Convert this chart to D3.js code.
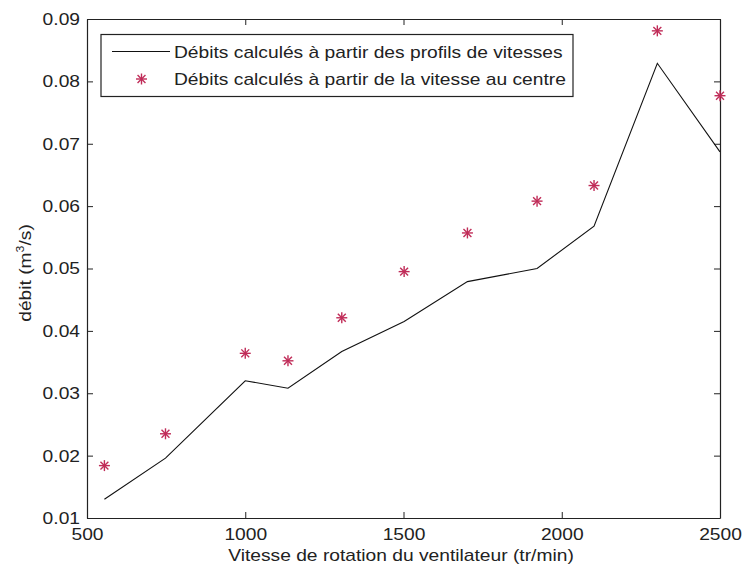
<!DOCTYPE html>
<html><head><meta charset="utf-8">
<script src="https://cdn.jsdelivr.net/npm/d3@7"></script>
<style>
html,body{margin:0;padding:0;background:#fff;}
text{font-family:"Liberation Sans",Arial,sans-serif;fill:#222;}
</style></head>
<body><svg id="c" width="742" height="571"></svg>
<script>
const rpm = [555, 748, 1000, 1135, 1305, 1502, 1702, 1922, 2102, 2302, 2500];
const debitProfils = [0.0130, 0.0196, 0.0320, 0.0308, 0.0367, 0.0415, 0.0479, 0.0500, 0.0568, 0.0829, 0.0687];
const debitCentre = [0.0184, 0.0235, 0.0364, 0.0352, 0.0421, 0.0495, 0.0557, 0.0608, 0.0633, 0.0881, 0.0777];
const xTicks = [500, 1000, 1500, 2000, 2500];
const yTicks = [0.01, 0.02, 0.03, 0.04, 0.05, 0.06, 0.07, 0.08, 0.09];
const legendLabels = ["Débits calculés à partir des profils de vitesses", "Débits calculés à partir de la vitesse au centre"];

const L = 87, R = 720, T = 19, B = 518;
const FS = 17, STRETCH = 1.13;
const svg = d3.select("#c");
const x = d3.scaleLinear().domain([500, 2500]).range([L, R]);
const y = d3.scaleLinear().domain([0.01, 0.09]).range([B, T]);
const starColor = "#c02c58";
const tickLen = 6;

function stretch(sel) {
  sel.each(function () {
    const w = this.getComputedTextLength();
    d3.select(this).attr("textLength", w * STRETCH).attr("lengthAdjust", "spacingAndGlyphs");
  });
}

// axes
const fmtY = d3.format(".2f");
const gB = svg.append("g").attr("transform", `translate(0,${B})`)
  .call(d3.axisBottom(x).tickValues(xTicks).tickSizeInner(-tickLen).tickSizeOuter(0).tickPadding(10).tickFormat(d3.format("d")));
const gT = svg.append("g").attr("transform", `translate(0,${T})`)
  .call(d3.axisTop(x).tickValues(xTicks).tickSizeInner(-tickLen).tickSizeOuter(0).tickFormat(""));
const gL = svg.append("g").attr("transform", `translate(${L},0)`)
  .call(d3.axisLeft(y).tickValues(yTicks).tickSizeInner(-tickLen).tickSizeOuter(0).tickPadding(7).tickFormat(fmtY));
const gR = svg.append("g").attr("transform", `translate(${R},0)`)
  .call(d3.axisRight(y).tickValues(yTicks).tickSizeInner(-tickLen).tickSizeOuter(0).tickFormat(""));
[gB, gT, gL, gR].forEach(g => {
  g.selectAll(".domain").attr("stroke", "#222").attr("stroke-width", 1.2);
  g.selectAll(".tick line").attr("stroke", "#222");
  g.selectAll("text").attr("font-size", FS).attr("fill", "#222").attr("font-family", "\"Liberation Sans\",Arial,sans-serif")
    .call(stretch);
});

// line
const line = d3.line().x((d, i) => x(rpm[i])).y(d => y(d));
svg.append("path").datum(debitProfils).attr("d", line)
  .attr("fill", "none").attr("stroke", "#111").attr("stroke-width", 1.1);

// star marker
function star(g, cx, cy, r) {
  const s = g.append("g").attr("transform", `translate(${cx},${cy})`)
    .attr("stroke", starColor).attr("stroke-width", 1.4);
  s.append("line").attr("x1", -r).attr("x2", r).attr("y1", 0).attr("y2", 0);
  s.append("line").attr("x1", 0).attr("x2", 0).attr("y1", -r).attr("y2", r);
  const d = r * 0.72;
  s.append("line").attr("x1", -d).attr("x2", d).attr("y1", -d).attr("y2", d);
  s.append("line").attr("x1", -d).attr("x2", d).attr("y1", d).attr("y2", -d);
}
const gs = svg.append("g");
debitCentre.forEach((v, i) => star(gs, x(rpm[i]), y(v), 5.5));

// legend
const lg = svg.append("g");
lg.append("rect").attr("x", 101).attr("y", 34.5).attr("width", 472).attr("height", 62)
  .attr("fill", "#fff").attr("stroke", "#222").attr("stroke-width", 1.2);
lg.append("line").attr("x1", 112).attr("x2", 170).attr("y1", 51.5).attr("y2", 51.5)
  .attr("stroke", "#111").attr("stroke-width", 1.1);
star(lg, 141.5, 79, 5.5);
legendLabels.forEach((t, i) => {
  lg.append("text").attr("x", 174).attr("y", i === 0 ? 51.5 : 79).attr("dy", "0.36em")
    .attr("font-size", FS).text(t).call(stretch);
});

// axis labels
svg.append("text").attr("x", 401).attr("y", 561).attr("text-anchor", "middle")
  .attr("font-size", FS).text("Vitesse de rotation du ventilateur (tr/min)").call(stretch);
const yl = svg.append("text").attr("transform", `translate(31,273) rotate(-90) scale(${STRETCH},1)`)
  .attr("text-anchor", "middle").attr("font-size", FS);
yl.append("tspan").text("débit (m");
yl.append("tspan").attr("font-size", 11).attr("dy", -7).text("3");
yl.append("tspan").attr("dy", 7).text("/s)");
</script></body></html>
